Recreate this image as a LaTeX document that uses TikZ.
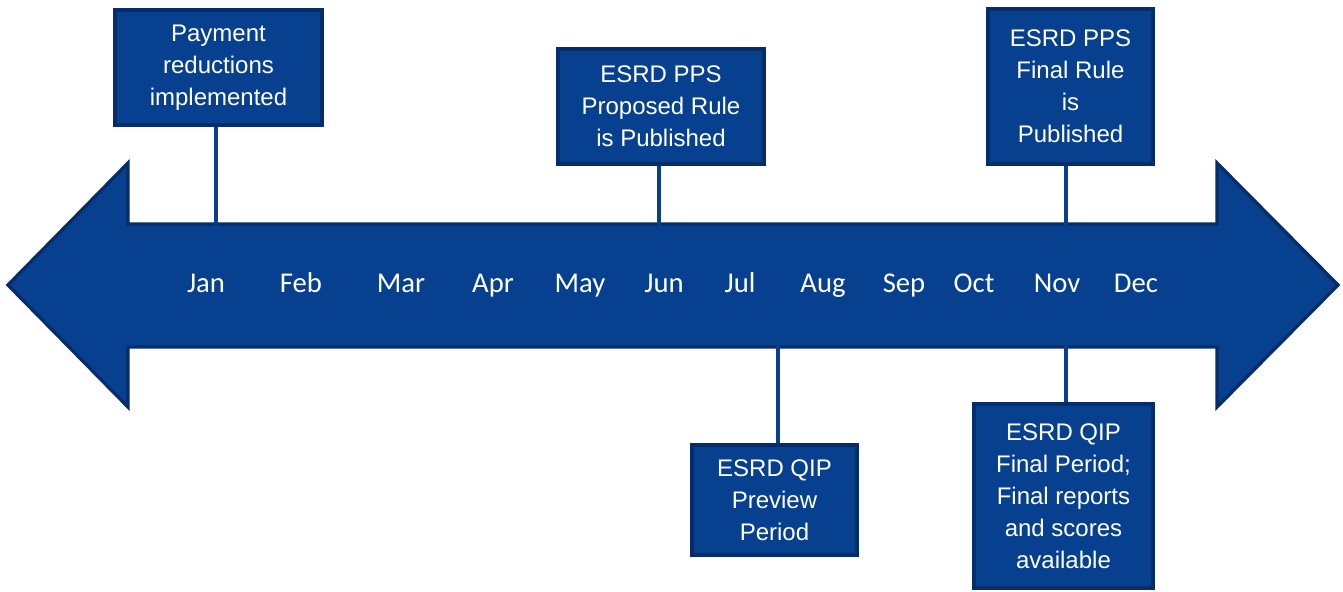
\documentclass[tikz,border=0pt]{standalone}
\usepackage{fontspec}
\setmainfont{Liberation Sans}
\newfontfamily\calfont{Carlito}
\definecolor{navy}{RGB}{6,64,143}
\definecolor{navyedge}{RGB}{5,45,105}
\begin{document}
\begin{tikzpicture}[x=0.75pt,y=-0.75pt,
 evbox/.style={draw=navyedge, line width=2.5pt, fill=navy, text=white, align=center, inner sep=0pt, font=\fontsize{18}{24}\selectfont},
 month/.style={text=white, font=\calfont\fontsize{21.5}{24}\selectfont, inner sep=0pt, anchor=base},
 link/.style={draw=navy, line width=3pt}]
\useasboundingbox (0,0) rectangle (1343,592);
% double arrow
\filldraw[fill=navy, draw=navyedge, line width=2.5pt, line join=miter]
  (8,285) -- (128,163) -- (128,224) -- (1217,224) -- (1217,163) -- (1338,285)
  -- (1217,407) -- (1217,347) -- (128,347) -- (128,407) -- cycle;
% anchor points on the arrow
\coordinate (a1) at (216,225);
\coordinate (a2) at (659,225);
\coordinate (a3) at (1066,225);
\coordinate (a4) at (778,346);
\coordinate (a5) at (1066,346);
% boxes
\node[evbox, minimum width=155.25pt, minimum height=86.25pt] (b1) at (218.5,67.5) {Payment\\reductions\\implemented};
\node[evbox, minimum width=154.5pt, minimum height=86.25pt] (b2) at (661,106.5) {ESRD PPS\\Proposed Rule\\is Published};
\node[evbox, minimum width=123.75pt, minimum height=116.25pt] (b3) at (1070.5,86.5) {ESRD PPS\\Final Rule\\is\\Published};
\node[evbox, minimum width=123.75pt, minimum height=82.5pt] (b4) at (774.5,500) {ESRD QIP\\Preview\\Period};
\node[evbox, minimum width=134.25pt, minimum height=138pt] (b5) at (1063.5,496) {ESRD QIP\\Final Period;\\Final reports\\and scores\\available};
% connectors
\draw[link] (b1.south -| a1) -- (a1);
\draw[link] (b2.south -| a2) -- (a2);
\draw[link] (b3.south -| a3) -- (a3);
\draw[link] (b4.north -| a4) -- (a4);
\draw[link] (b5.north -| a5) -- (a5);
% months
\node[month] (m1) at (206,292) {Jan};
\node[month] (m2) at (301,292) {Feb};
\node[month] (m3) at (401,292) {Mar};
\node[month] (m4) at (493,292) {Apr};
\node[month] (m5) at (580,292) {May};
\node[month] (m6) at (664,292) {Jun};
\node[month] (m7) at (740,292) {Jul};
\node[month] (m8) at (823,292) {Aug};
\node[month] (m9) at (904,292) {Sep};
\node[month] (m10) at (974,292) {Oct};
\node[month] (m11) at (1057,292) {Nov};
\node[month] (m12) at (1136,292) {Dec};
\end{tikzpicture}
\end{document}
